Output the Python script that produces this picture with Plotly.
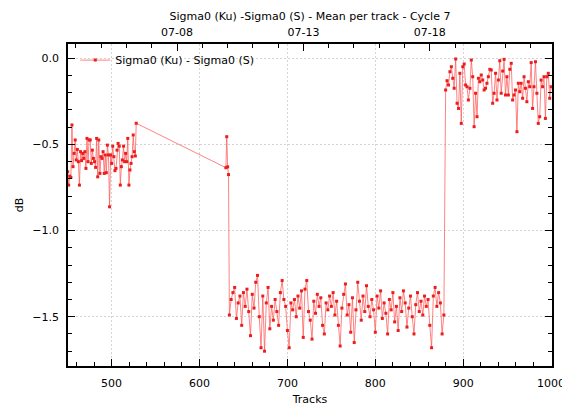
import numpy as np
import plotly.graph_objects as go

# ---- data ----
seg1_tracks = (450, 527)
seg1_values = [-0.659, -0.736, -0.684, -0.692, -0.387, -0.629, -0.552, -0.474, -0.590, -0.529,
               -0.600, -0.736, -0.542, -0.594, -0.552, -0.581, -0.542, -0.639, -0.465, -0.600,
               -0.474, -0.474, -0.610, -0.533, -0.581, -0.600, -0.633, -0.465, -0.688, -0.474,
               -0.668, -0.571, -0.581, -0.542, -0.668, -0.561, -0.664, -0.504, -0.561, -0.862,
               -0.561, -0.610, -0.510, -0.571, -0.652, -0.639, -0.533, -0.494, -0.510, -0.736,
               -0.629, -0.590, -0.510, -0.600, -0.552, -0.600, -0.465, -0.736, -0.648, -0.610,
               -0.571, -0.445, -0.542, -0.567]

bridge_tracks = [528, 630, 631, 632, 633]
bridge_values = [-0.377, -0.635, -0.455, -0.630, -0.675]

seg2_tracks = (634, 878)
seg2_values = [-1.49, -1.40, -1.36, -1.33, -1.51, -1.42, -1.38, -1.55, -1.36, -1.44,
               -1.34, -1.47, -1.61, -1.37, -1.45, -1.30, -1.26, -1.50, -1.68, -1.38,
               -1.70, -1.42, -1.33, -1.57, -1.44, -1.52, -1.40, -1.47, -1.55, -1.36,
               -1.29, -1.40, -1.44, -1.58, -1.68, -1.42, -1.46, -1.40, -1.50, -1.38,
               -1.45, -1.35, -1.62, -1.34, -1.29, -1.47, -1.52, -1.63, -1.41, -1.48,
               -1.37, -1.44, -1.39, -1.55, -1.60, -1.42, -1.46, -1.38, -1.44, -1.36,
               -1.49, -1.41, -1.55, -1.67, -1.45, -1.37, -1.31, -1.49, -1.43, -1.59,
               -1.39, -1.65, -1.46, -1.30, -1.41, -1.52, -1.38, -1.47, -1.32, -1.44,
               -1.50, -1.40, -1.46, -1.59, -1.38, -1.45, -1.35, -1.51, -1.42, -1.48,
               -1.60, -1.40, -1.46, -1.36, -1.53, -1.44, -1.58, -1.39, -1.47, -1.35,
               -1.42, -1.56, -1.45, -1.38, -1.50, -1.60, -1.43, -1.36, -1.47, -1.41,
               -1.49, -1.38, -1.44, -1.40, -1.55, -1.68, -1.38, -1.33, -1.44, -1.36,
               -1.42, -1.60, -1.49]

seg3_tracks = (880, 1000)
seg3_values = [-0.184, -0.130, -0.155, -0.078, -0.049, -0.116, -0.174, -0.004, -0.261, -0.291,
               -0.087, -0.378, -0.049, -0.033, -0.155, -0.165, -0.242, -0.174, -0.010, -0.107,
               -0.397, -0.203, -0.339, -0.116, -0.136, -0.097, -0.126, -0.184, -0.174, -0.145,
               -0.107, -0.064, -0.068, -0.261, -0.203, -0.087, -0.242, -0.126, -0.014, -0.203,
               -0.074, -0.006, -0.213, -0.107, -0.213, -0.064, -0.029, -0.242, -0.213, -0.184,
               -0.426, -0.145, -0.194, -0.145, -0.232, -0.107, -0.174, -0.252, -0.136, -0.165,
               -0.025, -0.291, -0.165, -0.020, -0.203, -0.378, -0.339, -0.126, -0.165, -0.107,
               -0.349, -0.107, -0.087, -0.232, -0.165]

date_range = ["2020-07-03 16:30", "2020-07-22 20:00"]

# ---- build series ----
def spread(bounds, vals):
    return list(np.round(np.linspace(bounds[0], bounds[1], len(vals)), 1))

tracks = (spread(seg1_tracks, seg1_values) + bridge_tracks +
          spread(seg2_tracks, seg2_values) + spread(seg3_tracks, seg3_values))
values = seg1_values + bridge_values + seg2_values + seg3_values

FONT = "DejaVu Sans"
fig = go.Figure()
fig.add_trace(go.Scatter(
    x=tracks, y=values, mode="lines+markers",
    name="Sigma0 (Ku) - Sigma0 (S)",
    line=dict(color="rgba(255,90,90,0.75)", width=1),
    marker=dict(symbol="square", size=3, color="rgb(235,30,30)"),
))
# invisible trace to carry the date axis on top
fig.add_trace(go.Scatter(x=date_range, y=[None, None], xaxis="x2",
                         showlegend=False, hoverinfo="skip"))

axis_common = dict(
    showline=True, linecolor="black", linewidth=1.5,
    ticks="inside", ticklen=7, tickwidth=1, tickcolor="black",
    tickfont=dict(family=FONT, size=11, color="black"),
    zeroline=False, automargin=False,
)
GRID = dict(showgrid=True, gridcolor="#d4d4d4", griddash="2px,2px", gridwidth=1)
# page body has an 8px margin, so the figure is 8px smaller and shifted
fig.update_layout(
    width=562, height=398,
    margin=dict(l=60, r=18, t=36, b=40),
    paper_bgcolor="white", plot_bgcolor="white",
    font=dict(family=FONT, size=11, color="black"),
    title=dict(text="Sigma0 (Ku) -Sigma0 (S) - Mean per track - Cycle 7",
               x=0.5, xanchor="center", xref="paper", y=0.988, yanchor="top",
               font=dict(family=FONT, size=11, color="black")),
    xaxis=dict(**axis_common, **GRID, range=[450.4, 1001], dtick=100, tick0=0, mirror=True,
               ticklabelstandoff=6,
               minor=dict(dtick=20, ticks="inside", ticklen=4, tickcolor="black", showgrid=False),
               title=dict(text="Tracks", font=dict(family=FONT, size=11), standoff=14)),
    xaxis2=dict(**axis_common, type="date", overlaying="x", side="top",
                range=date_range, tick0="2020-07-08", dtick=5 * 86400000,
                tickformat="%m-%d", showgrid=False, ticklabelstandoff=2,
                minor=dict(dtick=86400000, ticks="inside", ticklen=4, tickcolor="black", showgrid=False)),
    yaxis=dict(**axis_common, **GRID, range=[-1.786, 0.083], dtick=0.5, tick0=0, mirror="ticks",
               tickformat=".1f", ticklabelstandoff=5,
               minor=dict(dtick=0.1, ticks="inside", ticklen=4, tickcolor="black", showgrid=False),
               title=dict(text="dB", font=dict(family=FONT, size=11), standoff=6)),
    legend=dict(x=0.015, y=0.995, xanchor="left", yanchor="top",
                bgcolor="rgba(0,0,0,0)", font=dict(family=FONT, size=11, color="black"),
                itemwidth=30),
    showlegend=True,
)
fig.write_html("out.html")
